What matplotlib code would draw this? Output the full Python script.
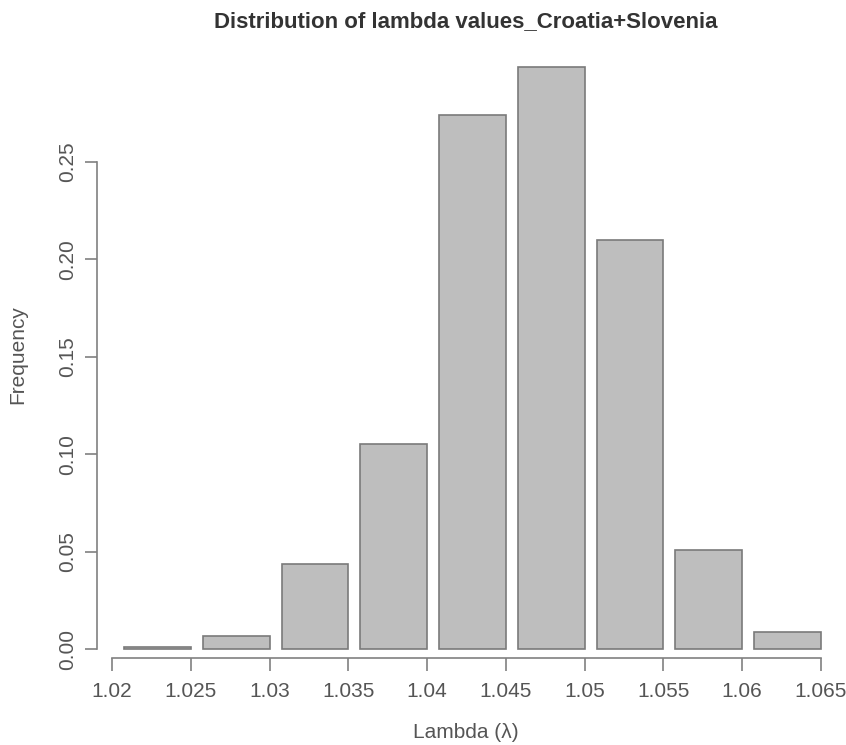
import matplotlib.pyplot as plt
import numpy as np

# histogram bins (lambda) and relative frequencies
bin_left = [1.020, 1.025, 1.030, 1.035, 1.040, 1.045, 1.050, 1.055, 1.060]
freq = [0.001, 0.0067, 0.0436, 0.105, 0.274, 0.299, 0.210, 0.0508, 0.0087]
x_ticks = [1.02, 1.025, 1.03, 1.035, 1.04, 1.045, 1.05, 1.055, 1.06, 1.065]
x_tick_labels = ['1.02', '1.025', '1.03', '1.035', '1.04', '1.045', '1.05', '1.055', '1.06', '1.065']
y_ticks = [0.00, 0.05, 0.10, 0.15, 0.20, 0.25]
y_tick_labels = ['0.00', '0.05', '0.10', '0.15', '0.20', '0.25']

plt.rcParams['font.family'] = ['Liberation Sans', 'DejaVu Sans']
txt = '#555555'
axc = '#808080'

fig = plt.figure(figsize=(8.46, 7.45), dpi=100)
ax = fig.add_axes([97 / 846, 1 - 658 / 745, (835 - 97) / 846, (658 - 55) / 745])

# R-style barplot: bars with a small gap on the left of each bin
bw = 0.005
gap = 0.00076
ax.bar(np.array(bin_left) + gap, freq, width=bw - gap, align='edge',
       color='#bebebe', edgecolor='#7a7a7a', linewidth=1.2)

ax.set_xlim(1.02 - 15 * 0.045 / 709, 1.065 + 14 * 0.045 / 709)
ax.set_ylim(-9 / 1948, (649 - 55) / 1948)

for s in ['top', 'right']:
    ax.spines[s].set_visible(False)
ax.spines['left'].set_bounds(0, 0.25)
ax.spines['bottom'].set_bounds(1.02, 1.065)
for s in ['left', 'bottom']:
    ax.spines[s].set_color(axc)
    ax.spines[s].set_linewidth(1.2)

ax.set_xticks(x_ticks)
ax.set_xticklabels(x_tick_labels)
ax.set_yticks(y_ticks)
ax.set_yticklabels(y_tick_labels, rotation=90, va='center')
ax.tick_params(axis='both', direction='out', length=9, width=1.2, color=axc,
               labelcolor=txt, labelsize=15)
ax.tick_params(axis='x', pad=8)
ax.tick_params(axis='y', pad=5)

fig.text(466 / 846, 1 - 22 / 745, 'Distribution of lambda values_Croatia+Slovenia',
         ha='center', va='center', fontsize=16, fontweight='bold', color='#333333')
fig.text(466 / 846, 1 - 733 / 745, 'Lambda (\u03bb)', ha='center', va='center',
         fontsize=15, color=txt)
fig.text(18 / 846, 1 - 355 / 745, 'Frequency', ha='center', va='center', rotation=90,
         fontsize=15, color=txt)

fig.savefig('out.png', dpi=100)
